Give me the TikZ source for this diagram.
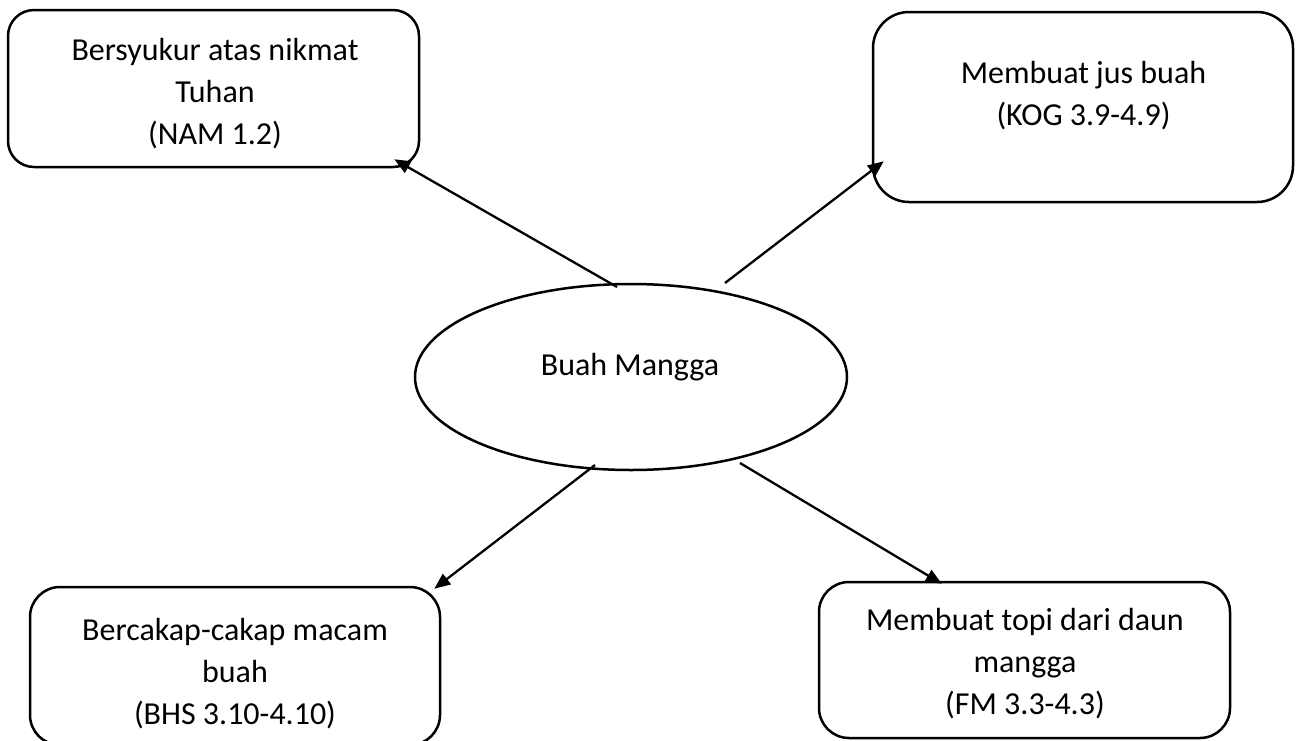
\documentclass[tikz,border=0pt]{standalone}
\usepackage{fontspec}
\setmainfont{Carlito}
\usetikzlibrary{shapes.geometric,arrows.meta}
\begin{document}
\begin{tikzpicture}[x=1pt,y=-1pt,
  box/.style={draw,line width=2.5pt,inner sep=0pt},
  txt/.style={font=\fontsize{32}{42}\selectfont,align=center,inner sep=0pt},
  arr/.style={line width=2.3pt,-{Triangle[length=16pt,width=13pt]}}]
\useasboundingbox (0,0) rectangle (1296,740);
\clip (0,0) rectangle (1296,740);
\node[box,rounded corners=26pt,minimum width=411pt,minimum height=157pt] (tl) at (213.5,88.5) {};
\node[box,rounded corners=36pt,minimum width=420pt,minimum height=190pt] (tr) at (1083,107) {};
\node[box,rounded corners=30pt,minimum width=410pt,minimum height=158pt] (bl) at (235,666) {};
\node[box,rounded corners=30pt,minimum width=411pt,minimum height=156pt] (br) at (1024.5,660) {};
\node[draw,line width=2.5pt,ellipse,minimum width=432pt,minimum height=186pt,inner sep=0pt] (ell) at (631,377) {};
\node[txt] (tlt) at (215,94) {Bersyukur atas nikmat\\Tuhan\\(NAM 1.2)};
\node[txt] (trt) at (1083.5,96) {Membuat jus buah\\(KOG 3.9-4.9)};
\node[txt] (blt) at (235,674) {Bercakap-cakap macam\\buah\\(BHS 3.10-4.10)};
\node[txt] (brt) at (1025,664) {Membuat topi dari daun\\mangga\\(FM 3.3-4.3)};
\node[txt,anchor=base] (ellt) at (630,375) {Buah Mangga};
\draw[arr] ([shift={(-14,-90)}]ell.center) -- ([shift={(-26,-9)}]tl.south east);
\draw[arr] ([shift={(94,-94)}]ell.center) -- ([shift={(12,-42)}]tr.south west);
\draw[arr] ([shift={(-36,88)}]ell.center) -- ([shift={(-7,3)}]bl.north east);
\draw[arr] ([shift={(109,86)}]ell.center) -- ([shift={(124,3)}]br.north west);
\end{tikzpicture}
\end{document}
